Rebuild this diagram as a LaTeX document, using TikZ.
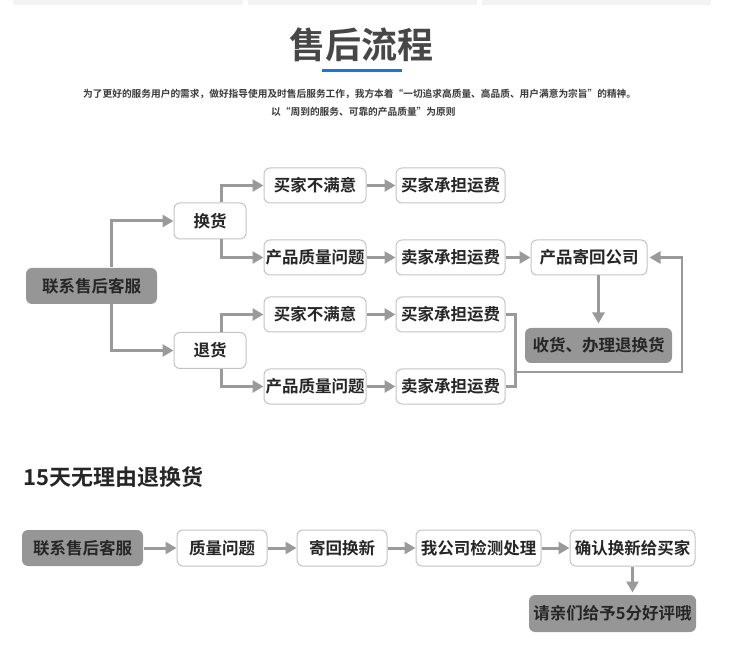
\documentclass[tikz,border=0pt]{standalone}
\usepackage{fontspec}
\setmainfont{Noto Sans CJK SC}[BoldFont={Noto Sans CJK SC Bold}]
\usetikzlibrary{arrows.meta}
\definecolor{barc}{HTML}{F3F3F3}
\definecolor{titlec}{HTML}{474747}
\definecolor{bluec}{HTML}{1677E0}
\definecolor{subc}{HTML}{3A3A3A}
\definecolor{boxline}{HTML}{C4C4C4}
\definecolor{gfill}{HTML}{969696}
\definecolor{txt}{HTML}{262626}
\definecolor{conn}{HTML}{9A9A9A}
\begin{document}
\begin{tikzpicture}[x=1pt,y=-1pt,
  box/.style={draw=boxline, line width=1pt, fill=white, rounded corners=6pt,
    minimum height=35pt, inner sep=0pt, text=txt,
    font=\fontsize{16.5}{18}\selectfont\bfseries},
  gbox/.style={box, draw=none, fill=gfill},
  ln/.style={draw=conn, line width=3pt},
  arr/.style={ln, -{Triangle[length=11pt,width=12pt]}}]
\path[use as bounding box] (0,0) rectangle (750,652);
% top bars
\fill[barc] (13,0) rectangle (243,5);
\fill[barc] (248,0) rectangle (477,5);
\fill[barc] (482,0) rectangle (711,5);
% title
\node[text=titlec, inner sep=0pt, font=\fontsize{36}{40}\selectfont\bfseries] (title) at (361,44.5) {售后流程};
\coordinate (bl1) at (322,70.5);
\coordinate (bl2) at (402,70.5);
\draw[bluec, line width=3pt] (bl1) -- (bl2);
\node[anchor=west, inner sep=0pt, text=subc, font=\fontsize{9.7}{11}\selectfont\bfseries] (sub1) at (83,94) {为了更好的服务用户的需求，做好指导使用及时售后服务工作，我方本着“一切追求高质量、高品质、用户满意为宗旨”的精神。};
\node[anchor=west, inner sep=0pt, text=subc, font=\fontsize{9.7}{11}\selectfont\bfseries] (sub2) at (271,112) {以“周到的服务、可靠的产品质量”为原则};
% section 1
\node[gbox, minimum width=131pt, minimum height=36pt] (lx) at (91.5,286) {联系售后客服};
\node[box, minimum width=72pt, minimum height=36pt] (hh) at (210,221) {换货};
\node[box, minimum width=72pt, minimum height=36pt] (th) at (210,350.5) {退货};
\node[box, minimum width=102pt] (a1) at (315,185.5) {买家不满意};
\node[box, minimum width=102pt] (a2) at (315,257.5) {产品质量问题};
\node[box, minimum width=102pt] (a3) at (315,314.5) {买家不满意};
\node[box, minimum width=102pt] (a4) at (315,386.5) {产品质量问题};
\node[box, minimum width=109pt] (b1) at (450.5,185.5) {买家承担运费};
\node[box, minimum width=109pt] (b2) at (450.5,257.5) {卖家承担运费};
\node[box, minimum width=109pt] (b3) at (450.5,314.5) {买家承担运费};
\node[box, minimum width=109pt] (b4) at (450.5,386.5) {卖家承担运费};
\node[box, minimum width=116pt] (c2) at (589,257.5) {产品寄回公司};
\node[gbox, minimum width=147pt] (rc) at (598.5,345.5) {收货、办理退换货};
\draw[arr] ([xshift=19.5pt]lx.north) |- (hh.west);
\draw[arr] ([xshift=19.5pt]lx.south) |- (th.west);
\draw[arr] ([xshift=11pt]hh.north) |- (a1.west);
\draw[arr] ([xshift=11pt]hh.south) |- (a2.west);
\draw[arr] ([xshift=11pt]th.north) |- (a3.west);
\draw[arr] ([xshift=11pt]th.south) |- (a4.west);
\draw[arr] (a1.east) -- (b1.west);
\draw[arr] (a2.east) -- (b2.west);
\draw[arr] (a3.east) -- (b3.west);
\draw[arr] (a4.east) -- (b4.west);
\draw[arr] (b2.east) -- (c2.west);
\draw[arr, shorten >=4pt] (c2.south -| rc.north) -- (rc.north);
\draw[ln, line width=2.5pt] (b3.east) -| ([xshift=10pt]b4.east) -- (b4.east);
\coordinate (jt) at (515,372);
\coordinate (jr) at (682,372);
\draw[ln, line width=2.5pt, -{Triangle[length=11pt,width=12pt]}, shorten >=2pt] (jt) -- (jr) |- (c2.east);
% section 2
\node[anchor=west, inner sep=0pt, text=txt, font=\fontsize{22}{24}\selectfont\bfseries] (t2) at (23,477.5) {15天无理由退换货};
\node[gbox, minimum width=121pt, minimum height=36pt] (s1) at (82.5,548) {联系售后客服};
\node[box, minimum width=90pt, minimum height=36pt] (s2) at (222,548) {质量问题};
\node[box, minimum width=90pt, minimum height=36pt] (s3) at (342,548) {寄回换新};
\node[box, minimum width=125pt, minimum height=36pt] (s4) at (478.5,548) {我公司检测处理};
\node[box, minimum width=125pt, minimum height=36pt] (s5) at (632.5,548) {确认换新给买家};
\node[gbox, minimum width=167pt, minimum height=37pt] (s6) at (612.5,613.5) {请亲们给予5分好评哦};
\draw[arr] (s1.east) -- (s2.west);
\draw[arr] (s2.east) -- (s3.west);
\draw[arr] (s3.east) -- (s4.west);
\draw[arr] (s4.east) -- (s5.west);
\draw[arr, shorten >=2pt] (s5.south) -- (s5.south |- s6.north);
\end{tikzpicture}
\end{document}
